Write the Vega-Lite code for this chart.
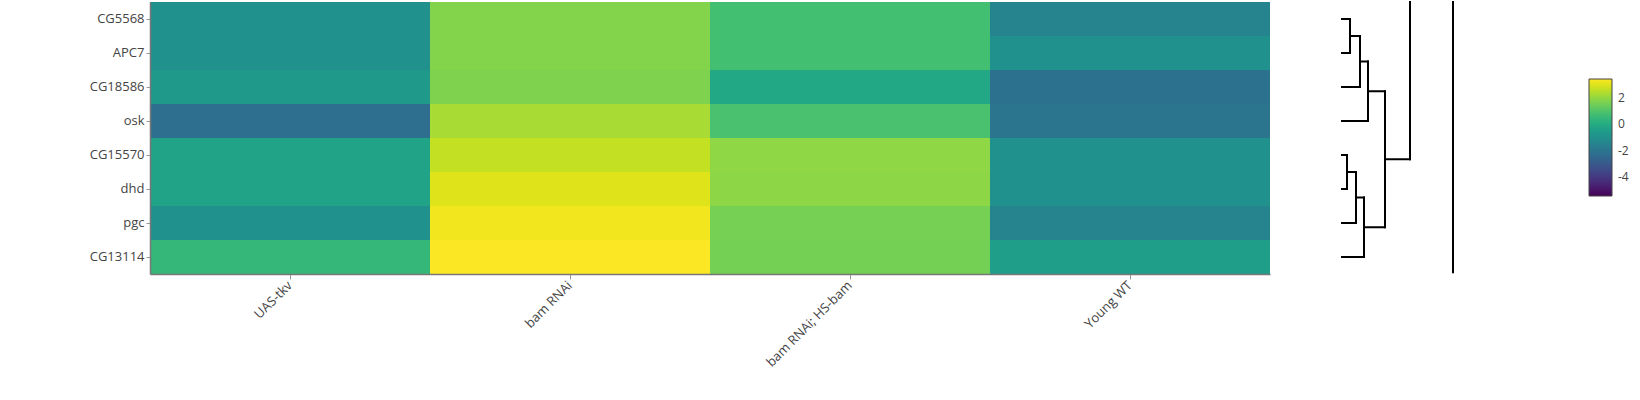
{
  "$schema": "https://vega.github.io/schema/vega-lite/v6.json",
  "padding": {"left": 89, "top": 0, "right": 0, "bottom": 0},
  "autosize": {"type": "pad"},
  "config": {
    "view": {"stroke": null},
    "font": "Open Sans",
    "axis": {"labelFont": "Open Sans", "labelFontSize": 13, "labelColor": "#444"}
  },
  "datasets": {
    "heat": [
      {"gene": "CG5568", "condition": "UAS-tkv", "value": -1.0},
      {"gene": "CG5568", "condition": "bam RNAi", "value": 1.8},
      {"gene": "CG5568", "condition": "bam RNAi; HS-bam", "value": 0.78},
      {"gene": "CG5568", "condition": "Young WT", "value": -1.48},
      {"gene": "APC7", "condition": "UAS-tkv", "value": -1.0},
      {"gene": "APC7", "condition": "bam RNAi", "value": 1.8},
      {"gene": "APC7", "condition": "bam RNAi; HS-bam", "value": 0.78},
      {"gene": "APC7", "condition": "Young WT", "value": -1.0},
      {"gene": "CG18586", "condition": "UAS-tkv", "value": -0.64},
      {"gene": "CG18586", "condition": "bam RNAi", "value": 1.74},
      {"gene": "CG18586", "condition": "bam RNAi; HS-bam", "value": -0.11},
      {"gene": "CG18586", "condition": "Young WT", "value": -2.11},
      {"gene": "osk", "condition": "UAS-tkv", "value": -2.26},
      {"gene": "osk", "condition": "bam RNAi", "value": 2.3},
      {"gene": "osk", "condition": "bam RNAi; HS-bam", "value": 0.89},
      {"gene": "osk", "condition": "Young WT", "value": -1.96},
      {"gene": "CG15570", "condition": "UAS-tkv", "value": -0.29},
      {"gene": "CG15570", "condition": "bam RNAi", "value": 2.65},
      {"gene": "CG15570", "condition": "bam RNAi; HS-bam", "value": 1.96},
      {"gene": "CG15570", "condition": "Young WT", "value": -1.0},
      {"gene": "dhd", "condition": "UAS-tkv", "value": -0.29},
      {"gene": "dhd", "condition": "bam RNAi", "value": 3.02},
      {"gene": "dhd", "condition": "bam RNAi; HS-bam", "value": 1.94},
      {"gene": "dhd", "condition": "Young WT", "value": -1.0},
      {"gene": "pgc", "condition": "UAS-tkv", "value": -1.0},
      {"gene": "pgc", "condition": "bam RNAi", "value": 3.29},
      {"gene": "pgc", "condition": "bam RNAi; HS-bam", "value": 1.59},
      {"gene": "pgc", "condition": "Young WT", "value": -1.45},
      {"gene": "CG13114", "condition": "UAS-tkv", "value": 0.47},
      {"gene": "CG13114", "condition": "bam RNAi", "value": 3.44},
      {"gene": "CG13114", "condition": "bam RNAi; HS-bam", "value": 1.58},
      {"gene": "CG13114", "condition": "Young WT", "value": -0.48}
    ],
    "dendro": [
      {"h1": 0, "h2": 0.4, "p1": 0, "p2": 0},
      {"h1": 0, "h2": 0.4, "p1": 1, "p2": 1},
      {"h1": 0.4, "h2": 0.4, "p1": 0, "p2": 1},
      {"h1": 0.4, "h2": 0.9, "p1": 0.5, "p2": 0.5},
      {"h1": 0, "h2": 0.9, "p1": 2, "p2": 2},
      {"h1": 0.9, "h2": 0.9, "p1": 0.5, "p2": 2},
      {"h1": 0.9, "h2": 1.3, "p1": 1.25, "p2": 1.25},
      {"h1": 0, "h2": 1.3, "p1": 3, "p2": 3},
      {"h1": 1.3, "h2": 1.3, "p1": 1.25, "p2": 3},
      {"h1": 1.3, "h2": 2.15, "p1": 2.125, "p2": 2.125},
      {"h1": 0, "h2": 0.25, "p1": 4, "p2": 4},
      {"h1": 0, "h2": 0.25, "p1": 5, "p2": 5},
      {"h1": 0.25, "h2": 0.25, "p1": 4, "p2": 5},
      {"h1": 0.25, "h2": 0.7, "p1": 4.5, "p2": 4.5},
      {"h1": 0, "h2": 0.7, "p1": 6, "p2": 6},
      {"h1": 0.7, "h2": 0.7, "p1": 4.5, "p2": 6},
      {"h1": 0.7, "h2": 1.1, "p1": 5.25, "p2": 5.25},
      {"h1": 0, "h2": 1.1, "p1": 7, "p2": 7},
      {"h1": 1.1, "h2": 1.1, "p1": 5.25, "p2": 7},
      {"h1": 1.1, "h2": 2.15, "p1": 6.125, "p2": 6.125},
      {"h1": 2.15, "h2": 2.15, "p1": 2.125, "p2": 6.125},
      {"h1": 2.15, "h2": 3.4, "p1": 4.125, "p2": 4.125},
      {"h1": 3.4, "h2": 3.4, "p1": 4.125, "p2": -0.5},
      {"h1": 5.55, "h2": 5.55, "p1": -0.5, "p2": 7.45}
    ]
  },
  "spacing": 70,
  "hconcat": [
    {
      "width": 1120,
      "height": 272,
      "data": {"name": "heat"},
      "mark": {"type": "rect", "strokeWidth": 0},
      "encoding": {
        "x": {
          "field": "condition", "type": "nominal",
          "sort": ["UAS-tkv", "bam RNAi", "bam RNAi; HS-bam", "Young WT"],
          "title": null,
          "axis": {"labelAngle": -45, "labelAlign": "right", "labelBaseline": "middle", "tickSize": 5, "labelPadding": 4, "domainColor": "#777", "domainWidth": 1.5, "tickColor": "#999"}
        },
        "y": {
          "field": "gene", "type": "nominal",
          "sort": ["CG5568", "APC7", "CG18586", "osk", "CG15570", "dhd", "pgc", "CG13114"],
          "title": null,
          "axis": {"tickSize": 4, "labelPadding": 2, "domainColor": "#777", "domainWidth": 1.5, "tickColor": "#999"}
        },
        "color": {
          "field": "value", "type": "quantitative",
          "scale": {"scheme": "viridis", "domain": [-5.45, 3.45]},
          "legend": {
            "orient": "none", "legendX": 1439, "legendY": 77, "title": null,
            "direction": "vertical", "gradientLength": 117, "gradientThickness": 23,
            "values": [-4, -2, 0, 2], "labelExpr": "toString(datum.value)",
            "gradientStrokeColor": "#444", "gradientStrokeWidth": 1,
            "labelFont": "Open Sans", "labelFontSize": 12, "labelColor": "#444", "labelOffset": 6
          }
        }
      }
    },
    {
      "width": 114,
      "height": 272,
      "data": {"name": "dendro"},
      "mark": {"type": "rule", "color": "black", "strokeWidth": 2, "strokeCap": "square"},
      "encoding": {
        "x": {"field": "h1", "type": "quantitative", "scale": {"domain": [0, 5.7], "nice": false, "zero": false}, "axis": null},
        "x2": {"field": "h2"},
        "y": {"field": "p1", "type": "quantitative", "scale": {"domain": [-0.5, 7.5], "reverse": true, "nice": false, "zero": false}, "axis": null},
        "y2": {"field": "p2"}
      }
    }
  ]
}
